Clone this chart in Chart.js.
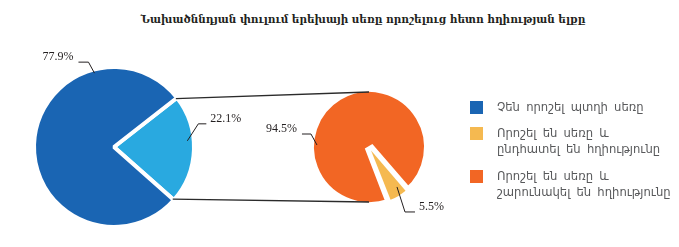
<!DOCTYPE html>
<html><head><meta charset="utf-8">
<script src="https://cdn.jsdelivr.net/npm/chart.js@4/dist/chart.umd.min.js"></script>
<style>
html,body{margin:0;padding:0;background:#fff;width:679px;height:247px;overflow:hidden}
#wrap{position:relative;width:679px;height:247px}
canvas{position:absolute;left:0;top:0}
#title{position:absolute;left:0;width:726px;top:10px;text-align:center;font-family:"DejaVu Serif Condensed","DejaVu Serif","DejaVu Sans";font-stretch:condensed;font-weight:bold;font-size:11.6px;color:#231f20;line-height:18px;white-space:nowrap}
.item{position:absolute;left:470px;font-family:"DejaVu Sans";font-size:11.6px;color:#58595b;line-height:16px;word-spacing:2.5px}
.sw{position:absolute;left:0;top:0;width:13px;height:13px}
.tx{position:absolute;left:27px;top:-2px;white-space:nowrap}
</style></head>
<body><div id="wrap">
<div id="title">Նախածննդյան փուլում երեխայի սեռը որոշելուց հետո հղիության ելքը</div>
<canvas id="c1" width="679" height="247"></canvas>
<canvas id="c2" width="679" height="247"></canvas>
<div id="legend"></div>
</div>
<script>
// ---- data ----
const leftLabels = ['Որոշել են սեռը', 'Չեն որոշել պտղի սեռը'];
const leftValues = [22.1, 77.9];
const leftColors = ['#29a9e0', '#1a65b3'];
const rightLabels = ['Որոշել են սեռը և շարունակել են հղիությունը', 'Որոշել են սեռը և ընդհատել են հղիությունը'];
const rightValues = [94.5, 5.5];
const rightColors = ['#f26624', '#f5b950'];
const legendLabels = [
  ['Չեն որոշել պտղի սեռը'],
  ['Որոշել են սեռը և', 'ընդհատել են հղիությունը'],
  ['Որոշել են սեռը և', 'շարունակել են հղիությունը']
];
const legendColors = ['#1a65b3', '#f5b950', '#f26624'];

// ---- legend (HTML) ----
const legendTops = [101, 127, 170];
const lg = document.getElementById('legend');
legendLabels.forEach((lines, i) => {
  const d = document.createElement('div');
  d.className = 'item'; d.style.top = legendTops[i] + 'px';
  d.innerHTML = '<div class="sw" style="background:' + legendColors[i] + '"></div><div class="tx">' + lines.join('<br>') + '</div>';
  lg.appendChild(d);
});

// ---- leader label plugin ----
const leaderLabels = {
  id: 'leaderLabels',
  afterDatasetsDraw(chart, args, opts) {
    const ctx = chart.ctx;
    const meta = chart.getDatasetMeta(0);
    const vals = chart.data.datasets[0].data;
    ctx.save();
    ctx.strokeStyle = '#231f20'; ctx.lineWidth = 1;
    ctx.fillStyle = '#231f20';
    ctx.font = '12px "Liberation Serif", "DejaVu Serif", serif';
    ctx.textBaseline = 'middle';
    (opts.items || []).forEach(it => {
      const arc = meta.data[it.index];
      const R = it.base != null ? meta.data[it.base].outerRadius : arc.outerRadius;
      const a = it.angle * Math.PI / 180;
      const ax = arc.x + Math.cos(a) * R * it.r;
      const ay = arc.y + Math.sin(a) * R * it.r;
      const ex = ax + it.elbow[0], ey = ay + it.elbow[1];
      const hx = ex + it.hlen;
      ctx.beginPath(); ctx.moveTo(ax, ay); ctx.lineTo(ex, ey); ctx.lineTo(hx, ey); ctx.stroke();
      const txt = vals[it.index].toFixed(1) + '%';
      if (it.hlen < 0) { ctx.textAlign = 'right'; ctx.fillText(txt, hx - 5, ey - 5); }
      else { ctx.textAlign = 'left'; ctx.fillText(txt, hx + 4, ey - 5); }
    });
    ctx.restore();
  }
};

// ---- exploded slice is drawn a little smaller than the rest of its pie ----
const explodeShrink = {
  id: 'explodeShrink',
  afterDatasetUpdate(chart, args, opts) {
    const meta = chart.getDatasetMeta(args.index);
    const el = meta.data[opts.index];
    if (el) el.outerRadius = el.outerRadius - opts.by;
  }
};

let leftChart;
// ---- connector plugin (lines from the split-off slice to the second pie) ----
const connectors = {
  id: 'connectors',
  afterDatasetsDraw(chart) {
    if (!leftChart) return;
    const la = leftChart.getDatasetMeta(0).data[0];
    const ra = chart.getDatasetMeta(0).data[0];
    const rv = la.outerRadius - 1.5;
    const rr = ra.outerRadius - 4.5;
    const p1 = [la.x + Math.cos(la.startAngle) * rv, la.y + Math.sin(la.startAngle) * rv];
    const p2 = [la.x + Math.cos(la.endAngle) * rv, la.y + Math.sin(la.endAngle) * rv];
    const ctx = chart.ctx;
    ctx.save();
    ctx.strokeStyle = '#2b2b2b'; ctx.lineWidth = 1.3;
    ctx.beginPath();
    ctx.moveTo(p1[0], p1[1]); ctx.lineTo(ra.x, ra.y - rr);
    ctx.moveTo(p2[0], p2[1]); ctx.lineTo(ra.x, ra.y + rr);
    ctx.stroke();
    ctx.restore();
  }
};

const common = {
  responsive: false, animation: false,
  events: [],
  plugins: { legend: { display: false }, tooltip: { enabled: false }, title: { display: false } }
};

leftChart = new Chart(document.getElementById('c1'), {
  type: 'pie',
  data: { labels: leftLabels, datasets: [{ data: leftValues, backgroundColor: leftColors,
    borderColor: '#ffffff', borderWidth: 4, hoverBorderWidth: 4, offset: 0, hoverOffset: 0 }] },
  options: Object.assign({}, common, {
    rotation: 52, radius: 80,
    layout: { padding: { left: 29, right: 480, top: 62, bottom: 15 } },
    plugins: Object.assign({}, common.plugins, {
      leaderLabels: { items: [
        { index: 1, angle: -104.8, r: 0.955, elbow: [-6, -11], hlen: -10 },
        { index: 0, angle: -4.8, r: 0.92, elbow: [11, -17], hlen: 8 }
      ] }
    })
  }),
  plugins: [leaderLabels]
});

new Chart(document.getElementById('c2'), {
  type: 'pie',
  data: { labels: rightLabels, datasets: [{ data: rightValues, backgroundColor: rightColors,
    borderColor: '#ffffff', borderWidth: [9, 0], hoverBorderWidth: [9, 0], offset: [0, 16], hoverOffset: 0 }] },
  options: Object.assign({}, common, {
    rotation: 158.9, radius: 59.5,
    layout: { padding: { left: 304, right: 245, top: 82, bottom: 35 } },
    plugins: Object.assign({}, common.plugins, {
      explodeShrink: { index: 1, by: 9 },
      leaderLabels: { items: [
        { index: 0, angle: 182.2, r: 0.875, elbow: [-6, -11], hlen: -9 },
        { index: 1, base: 0, angle: 55, r: 0.82, elbow: [8, 25], hlen: 10 }
      ] }
    })
  }),
  plugins: [explodeShrink, leaderLabels, connectors]
});
</script>
</body></html>
